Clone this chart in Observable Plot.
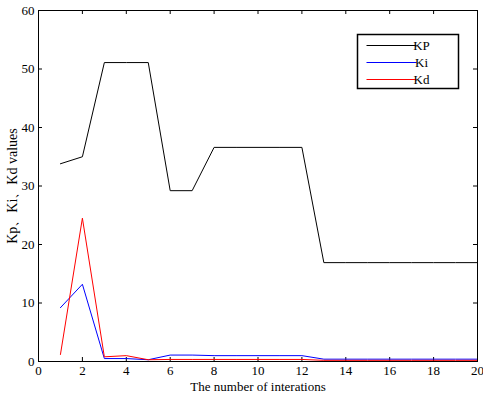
<!DOCTYPE html>
<html><head><meta charset="utf-8">
<script src="https://cdn.jsdelivr.net/npm/d3@7"></script>
<script src="https://cdn.jsdelivr.net/npm/@observablehq/plot@0.6"></script>
<style>
body{margin:0;background:#fff;}
#wrap{position:relative;width:483px;height:394px;}
#wrap svg text{font-family:"Liberation Serif",serif !important;}
</style></head>
<body><div id="wrap"></div>
<script>
const iterations = [1,2,3,4,5,6,7,8,9,10,11,12,13,14,15,16,17,18,19,20];
const kp = [33.8,35.0,51.1,51.1,51.1,29.2,29.2,36.6,36.6,36.6,36.6,36.6,16.9,16.9,16.9,16.9,16.9,16.9,16.9,16.9];
const ki = [9.2,13.2,0.5,0.5,0.3,1.1,1.1,1.0,1.0,1.0,1.0,1.0,0.4,0.4,0.4,0.4,0.4,0.4,0.4,0.4];
const kd = [1.2,24.5,0.8,1.0,0.3,0.35,0.35,0.35,0.35,0.35,0.35,0.35,0.2,0.2,0.2,0.2,0.2,0.2,0.2,0.2];
const seriesNames = ["KP","Ki","Kd"];
const seriesColors = ["#000000","#0000ff","#ff0000"];
const xTicks = [0,2,4,6,8,10,12,14,16,18,20];
const yTicks = [0,10,20,30,40,50,60];

const rows = [];
[kp,ki,kd].forEach((arr,si)=>arr.forEach((v,i)=>rows.push({x:iterations[i],y:v,s:seriesNames[si]})));

const W=483,H=394,mL=38,mR=6,mT=10,mB=33;
const ph = H-mT-mB, pw = W-mL-mR;
const serif = "Liberation Serif, serif";
const chart = Plot.plot({
  width:W,height:H,marginLeft:mL,marginRight:mR,marginTop:mT,marginBottom:mB,
  style:{fontFamily:serif,fontSize:"13px",color:"#000",background:"#fff"},
  x:{domain:[0,20]},
  y:{domain:[0,60]},
  color:{domain:seriesNames,range:seriesColors},
  marks:[
    Plot.axisX({ticks:xTicks,tickSize:0,tickPadding:4,label:null,fontSize:13,fontFamily:serif}),
    Plot.axisX({ticks:[],tickSize:0,label:"The number of interations",labelAnchor:"center",labelArrow:false,labelOffset:29,fontSize:13,fontFamily:serif}),
    Plot.axisY({ticks:yTicks,tickSize:0,tickPadding:4,label:null,fontSize:13,fontFamily:serif}),
    Plot.axisY({ticks:[],tickSize:0,label:"Kp、Ki、Kd values",labelAnchor:"center",labelArrow:false,labelOffset:31,fontSize:14,fontFamily:serif}),
    Plot.tickX(xTicks,{x:d=>d,insetTop:ph-4,stroke:"#000"}),
    Plot.tickX(xTicks,{x:d=>d,insetBottom:ph-4,stroke:"#000"}),
    Plot.tickY(yTicks,{y:d=>d,insetRight:pw-4,stroke:"#000"}),
    Plot.tickY(yTicks,{y:d=>d,insetLeft:pw-4,stroke:"#000"}),
    Plot.line(rows,{x:"x",y:"y",z:"s",stroke:"s",strokeWidth:1}),
    Plot.frame({stroke:"#000"})
  ]
});
const wrap=document.getElementById("wrap");
wrap.appendChild(chart);
// legend drawn inside the SVG
const svg=d3.select(chart);
const lg=svg.append("g").attr("transform","translate(357.5,34.5)");
lg.append("rect").attr("width",101).attr("height",54).attr("fill","#fff").attr("stroke","#000").attr("stroke-width",1.5);
seriesNames.forEach((n,i)=>{
  const y=11+i*17;
  lg.append("line").attr("x1",9).attr("x2",59).attr("y1",y).attr("y2",y).attr("stroke",seriesColors[i]).attr("stroke-width",1);
  lg.append("text").attr("x",64).attr("y",y).attr("dy","0.35em").attr("font-size",13).attr("fill","#000").text(n);
});
</script></body></html>
